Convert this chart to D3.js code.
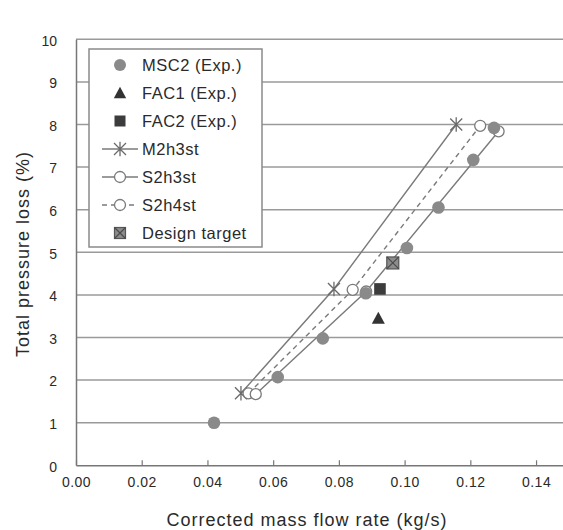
<!DOCTYPE html>
<html>
<head>
<meta charset="utf-8">
<script src="https://cdn.jsdelivr.net/npm/d3@7"></script>
<style>
  body { margin: 0; background: #fff; }
  svg { display: block; font-family: "Liberation Sans", Arial, sans-serif; }
</style>
</head>
<body>
<svg id="chart" width="563" height="530"></svg>
<script>
// ---- data ----
const xTicks = [0.00, 0.02, 0.04, 0.06, 0.08, 0.10, 0.12, 0.14];
const yTicks = [0, 1, 2, 3, 4, 5, 6, 7, 8, 9, 10];

const msc2X = [0.0420, 0.0614, 0.0751, 0.0882, 0.1007, 0.1103, 0.1209, 0.1272];
const msc2Y = [1.00, 2.07, 2.98, 4.04, 5.10, 6.05, 7.17, 7.92];

const fac1X = [0.0920];
const fac1Y = [3.45];

const fac2X = [0.0925];
const fac2Y = [4.14];

const m2h3stX = [0.0502, 0.0785, 0.1157];
const m2h3stY = [1.69, 4.14, 8.00];

const s2h3stX = [0.0547, 0.0883, 0.1286];
const s2h3stY = [1.67, 4.08, 7.84];

const s2h4stX = [0.0525, 0.0842, 0.1230];
const s2h4stY = [1.69, 4.12, 7.97];

const designX = [0.0964];
const designY = [4.75];

const legendLabels = ["MSC2 (Exp.)", "FAC1 (Exp.)", "FAC2 (Exp.)", "M2h3st", "S2h3st", "S2h4st", "Design target"];

// ---- layout ----
const W = 563, H = 530;
const svg = d3.select("#chart");
const x = d3.scaleLinear().domain([0, 0.1482]).range([76, 563]);
const y = d3.scaleLinear().domain([0, 10]).range([465.3, 39.3]);

const gridColor = "#9a9a9a";
const lineColor = "#7a7a7a";
const textColor = "#2a2a2a";

// grid lines
svg.append("g").selectAll("line").data(yTicks.filter(d => d > 0)).join("line")
  .attr("x1", x(0)).attr("x2", W)
  .attr("y1", d => y(d)).attr("y2", d => y(d))
  .attr("stroke", gridColor).attr("stroke-width", 1.5);

// bottom axis
const xAxis = d3.axisBottom(x).tickValues(xTicks).tickFormat(d3.format(".2f")).tickSizeInner(-5).tickSizeOuter(0).tickPadding(12);
const gx = svg.append("g").attr("transform", `translate(0,${y(0)})`).call(xAxis);
gx.select(".domain").attr("stroke", "#777").attr("stroke-width", 1.5);
gx.selectAll(".tick line").attr("stroke", "#777").attr("stroke-width", 1.2);
gx.selectAll(".tick text").attr("font-size", 14).attr("fill", textColor).attr("letter-spacing", "0.5px")
  .attr("font-family", "Liberation Sans, Arial, sans-serif");

// left axis
const yAxis = d3.axisLeft(y).tickValues(yTicks).tickSize(0).tickPadding(19);
const gy = svg.append("g").attr("transform", `translate(${x(0)},0)`).call(yAxis);
gy.select(".domain").attr("stroke", "#777").attr("stroke-width", 1.5);
gy.selectAll(".tick text").attr("font-size", 14).attr("fill", textColor).attr("dy", "0.42em")
  .attr("font-family", "Liberation Sans, Arial, sans-serif");

// axis titles
svg.append("text").attr("x", 307).attr("y", 526).attr("text-anchor", "middle")
  .attr("font-size", 18).attr("letter-spacing", "1px").attr("fill", textColor).text("Corrected mass flow rate (kg/s)");
svg.append("text").attr("transform", "translate(29,254) rotate(-90)").attr("text-anchor", "middle")
  .attr("font-size", 18).attr("letter-spacing", "1px").attr("fill", textColor).text("Total pressure loss (%)");

// ---- marker helpers ----
function circleFilled(g, cx, cy, r) {
  g.append("circle").attr("cx", cx).attr("cy", cy).attr("r", r).attr("fill", "#8a8a8a");
}
function circleOpen(g, cx, cy, r) {
  g.append("circle").attr("cx", cx).attr("cy", cy).attr("r", r)
    .attr("fill", "#fff").attr("stroke", lineColor).attr("stroke-width", 1.3);
}
function asterisk(g, cx, cy, s) {
  const p = `M${cx - s},${cy - s}L${cx + s},${cy + s}M${cx - s},${cy + s}L${cx + s},${cy - s}M${cx},${cy - s * 1.2}L${cx},${cy + s * 1.2}`;
  g.append("path").attr("d", p).attr("stroke", "#6a6a6a").attr("stroke-width", 1.3).attr("fill", "none");
}
function triangle(g, cx, cy, s) {
  g.append("path").attr("d", `M${cx},${cy - s}L${cx + s},${cy + s * 0.85}L${cx - s},${cy + s * 0.85}Z`).attr("fill", "#333");
}
function square(g, cx, cy, s) {
  g.append("rect").attr("x", cx - s).attr("y", cy - s).attr("width", 2 * s).attr("height", 2 * s).attr("fill", "#3c3c3c");
}
function designMark(g, cx, cy, s) {
  g.append("rect").attr("x", cx - s).attr("y", cy - s).attr("width", 2 * s).attr("height", 2 * s)
    .attr("fill", "#8c8c8c").attr("stroke", "#555").attr("stroke-width", 1.2);
  g.append("path").attr("d", `M${cx - s},${cy - s}L${cx + s},${cy + s}M${cx - s},${cy + s}L${cx + s},${cy - s}`)
    .attr("stroke", "#4a4a4a").attr("stroke-width", 1.2);
}

const line = d3.line();
const pts = (xs, ys) => xs.map((v, i) => [x(v), y(ys[i])]);

const plot = svg.append("g");
// lines
plot.append("path").attr("d", line(pts(m2h3stX, m2h3stY))).attr("fill", "none").attr("stroke", lineColor).attr("stroke-width", 1.4);
plot.append("path").attr("d", line(pts(s2h3stX, s2h3stY))).attr("fill", "none").attr("stroke", lineColor).attr("stroke-width", 1.4);
plot.append("path").attr("d", line(pts(s2h4stX, s2h4stY))).attr("fill", "none").attr("stroke", lineColor).attr("stroke-width", 1.4).attr("stroke-dasharray", "5,4");

// markers
pts(m2h3stX, m2h3stY).forEach(p => asterisk(plot, p[0], p[1], 6));
pts(s2h4stX, s2h4stY).forEach(p => circleOpen(plot, p[0], p[1], 5.5));
pts(s2h3stX, s2h3stY).forEach(p => circleOpen(plot, p[0], p[1], 5.5));
pts(msc2X, msc2Y).forEach(p => circleFilled(plot, p[0], p[1], 6.3));
pts(fac1X, fac1Y).forEach(p => triangle(plot, p[0], p[1], 6.5));
pts(fac2X, fac2Y).forEach(p => square(plot, p[0], p[1], 5.8));
pts(designX, designY).forEach(p => designMark(plot, p[0], p[1], 6));

// ---- legend ----
const lg = svg.append("g");
lg.append("rect").attr("x", 89).attr("y", 49).attr("width", 173).attr("height", 198)
  .attr("fill", "#fff").attr("stroke", "#8a8a8a").attr("stroke-width", 1.5);
const rowY = i => 65 + i * 28;
const sx = 120;
legendLabels.forEach((lab, i) => {
  const cy = rowY(i);
  if (i === 0) circleFilled(lg, sx, cy, 6);
  if (i === 1) triangle(lg, sx, cy, 6.2);
  if (i === 2) square(lg, sx, cy, 5.5);
  if (i === 3) {
    lg.append("line").attr("x1", 102).attr("x2", 138).attr("y1", cy).attr("y2", cy).attr("stroke", lineColor).attr("stroke-width", 1.4);
    asterisk(lg, sx, cy, 6);
  }
  if (i === 4) {
    lg.append("line").attr("x1", 102).attr("x2", 138).attr("y1", cy).attr("y2", cy).attr("stroke", lineColor).attr("stroke-width", 1.4);
    circleOpen(lg, sx, cy, 5.5);
  }
  if (i === 5) {
    lg.append("line").attr("x1", 102).attr("x2", 138).attr("y1", cy).attr("y2", cy).attr("stroke", lineColor).attr("stroke-width", 1.4).attr("stroke-dasharray", "5,4");
    circleOpen(lg, sx, cy, 5.5);
  }
  if (i === 6) designMark(lg, sx, cy, 5.5);
  lg.append("text").attr("x", 142).attr("y", cy).attr("dy", "0.36em")
    .attr("font-size", 16.5).attr("letter-spacing", "0.5px").attr("fill", textColor).text(lab);
});
</script>
</body>
</html>
